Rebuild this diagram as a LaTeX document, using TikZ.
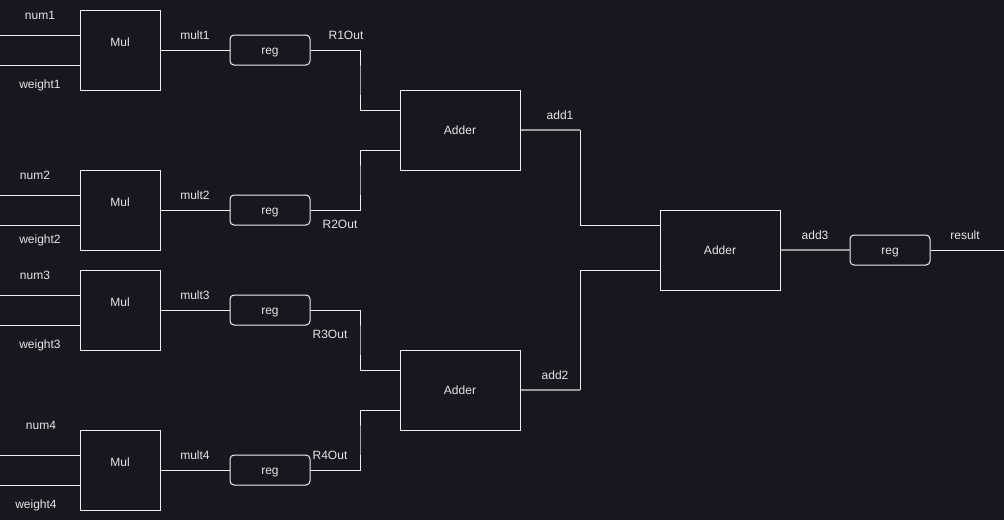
\documentclass[tikz,border=0pt]{standalone}
\usepackage{fontspec}
\setmainfont{Liberation Sans}
\definecolor{bg}{HTML}{18161E}
\definecolor{txt}{HTML}{E6E6E6}
\definecolor{wire}{HTML}{F0F0F0}
\definecolor{gwire}{HTML}{9A9A9A}
\begin{document}
\begin{tikzpicture}[x=1pt,y=-1pt,
  every node/.style={font=\fontsize{12}{14}\selectfont, text=txt, inner sep=0pt},
  blk/.style={draw=wire, line width=1pt, fill=bg, minimum width=80pt, minimum height=80pt},
  addblk/.style={draw=wire, line width=1pt, fill=bg, minimum width=120pt, minimum height=80pt},
  regblk/.style={draw=wire, line width=1pt, fill=bg, rounded corners=4pt, minimum width=80pt, minimum height=30pt, text height=10.5pt, text depth=2.5pt},
  wr/.style={draw=wire, line width=1pt},
  gw/.style={draw=gwire, line width=1.2pt}]
\fill[bg] (0,0) rectangle (1004,520);
\useasboundingbox (0,0) rectangle (1004,520);
% Mul blocks
\foreach \i/\y in {1/50,2/210,3/310,4/470}{
  \node[blk] (mul\i) at (120,\y) {};
  \node (mulT\i) at (120,\y-7.5) {Mul};
  \node[regblk] (reg\i) at (270,\y) {reg};
  \coordinate (na\i) at (0,\y-15);
  \coordinate (wa\i) at (0,\y+15);
  \draw[wr] (na\i) -- (na\i -| mul\i.west);
  \draw[wr] (wa\i) -- (wa\i -| mul\i.west);
  \draw[wr] (mul\i.east) -- (reg\i.west);
}
\node (num1) at (40,15) {num1};
\node (weight1) at (40,85) {weight1};
\node (num2) at (35,175) {num2};
\node (weight2) at (40,240) {weight2};
\node (num3) at (35,275) {num3};
\node (weight3) at (40,345) {weight3};
\node (num4) at (41,425) {num4};
\node (weight4) at (36,505) {weight4};
\node (m1) at (195,35) {mult1};
\node (m2) at (195,195) {mult2};
\node (m3) at (195,295) {mult3};
\node (m4) at (195,455) {mult4};
\node (r1) at (346,35) {R1Out};
\node (r2) at (340,224) {R2Out};
\node (r3) at (330,334) {R3Out};
\node (r4) at (330,455) {R4Out};
% Adders
\node[addblk] (add1) at (460,130) {Adder};
\node[addblk] (add2) at (460,390) {Adder};
\node[addblk] (add3) at (720,250) {Adder};
\node[regblk] (reg5) at (890,250) {reg};
\coordinate (a1a) at (400,110);
\coordinate (a1b) at (400,150);
\coordinate (a2a) at (400,370);
\coordinate (a2b) at (400,410);
\coordinate (a3a) at (660,225);
\coordinate (a3b) at (660,270);
\draw[wr] (reg1.east) -| (360,80) |- (a1a);
\draw[wr] (reg2.east) -| (360,180) |- (a1b);
\draw[wr] (reg3.east) -| (360,340) |- (a2a);
\draw[wr] (reg4.east) -| (360,440) |- (a2b);
\draw[gw] (add1.east) -- (580,130);
\draw[wr] (580,130) |- (a3a);
\draw[gw] (add2.east) -- (580,390);
\draw[wr] (580,390) |- (a3b);
\draw[gw] (add3.east) -- (reg5.west);
\coordinate (res) at (1004,250);
\draw[wr] (reg5.east) -- (res);
\node (ad1) at (560,115) {add1};
\node (ad2) at (555,375) {add2};
\node (ad3) at (815,235) {add3};
\node (rs) at (965,235) {result};
\end{tikzpicture}
\end{document}
